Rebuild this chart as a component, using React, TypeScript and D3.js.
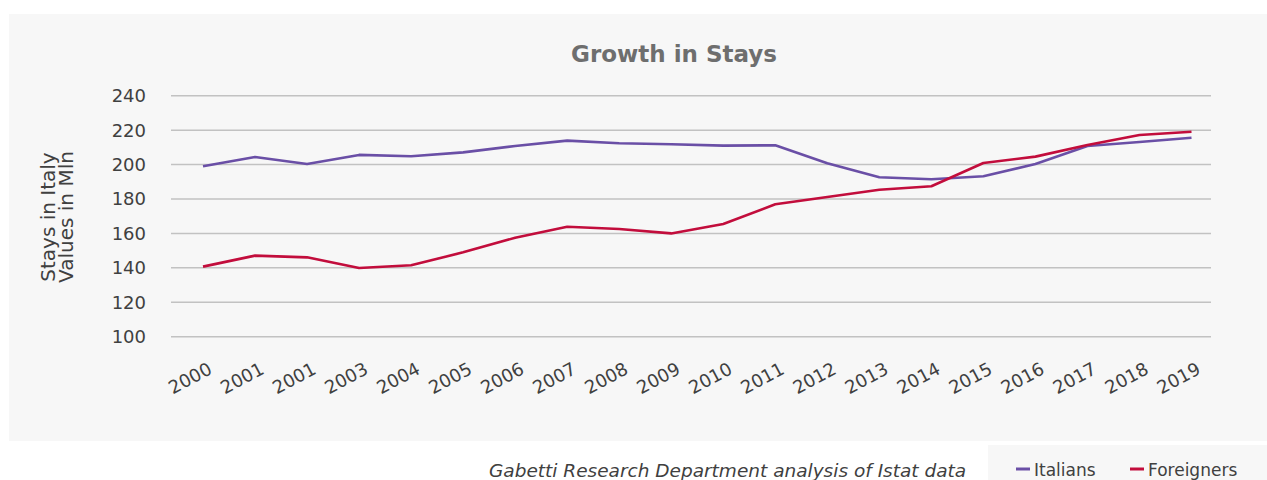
import React from "react";
import * as d3 from "d3";

const years = ["2000","2001","2001","2003","2004","2005","2006","2007","2008","2009","2010","2011","2012","2013","2014","2015","2016","2017","2018","2019"];
const italians = [199.0,204.4,200.3,205.6,204.8,207.1,210.8,213.9,212.4,211.8,211.0,211.2,200.8,192.6,191.5,193.2,200.3,210.8,213.1,215.6];
const foreigners = [140.7,147.1,146.1,139.9,141.5,149.0,157.5,163.9,162.6,160.0,165.5,176.9,181.2,185.4,187.4,200.9,204.6,211.4,217.2,219.1];
const yTicks = [100,120,140,160,180,200,220,240];
const seriesNames = ["Italians","Foreigners"];
const seriesColors = ["#6a4fa6","#c20d3c"];

const W = 1267, H = 480;
const FONT = "'DejaVu Sans', sans-serif";

export default function App() {
  const x = d3.scalePoint<number>().domain(d3.range(years.length)).range([203, 1191.5]);
  const y = d3.scaleLinear().domain([100, 240]).range([336.7, 95.7]);
  const line = d3.line<number>().x((_, i) => x(i) as number).y(d => y(d));
  const series = [italians, foreigners];

  return (
    <svg width={W} height={H} style={{ position: "fixed", left: 0, top: 0, display: "block" }} fontFamily={FONT}>
      <rect x={0} y={0} width={W} height={H} fill="#ffffff" />
      <rect x={9} y={14} width={W - 9} height={427} fill="#f7f7f7" />
      <text x={674} y={62} textAnchor="middle" fontSize={23} fontWeight="bold" fill="#6e6e6e">Growth in Stays</text>

      {yTicks.map(t => (
        <g key={t}>
          <line x1={171} x2={1211} y1={y(t)} y2={y(t)} stroke="#c2c2c2" strokeWidth={1.5} />
          <text x={146} y={y(t)} dy="0.36em" textAnchor="end" fontSize={18} fill="#404040">{t}</text>
        </g>
      ))}

      <g transform="translate(48,217) rotate(-90)">
        <text x={0} y={0} dy="0.36em" textAnchor="middle" fontSize={20} fill="#404040">Stays in Italy</text>
        <text x={0} y={18} dy="0.36em" textAnchor="middle" fontSize={20} fill="#404040">Values in Mln</text>
      </g>

      {years.map((yr, i) => (
        <text key={i} transform={`translate(${(x(i) as number) - 13},${378}) rotate(-28)`} textAnchor="middle" dy="0.36em" fontSize={18} fill="#404040">{yr}</text>
      ))}

      {series.map((s, k) => (
        <path key={k} d={line(s) || ""} fill="none" stroke={seriesColors[k]} strokeWidth={2.6} strokeLinejoin="round" />
      ))}

      <text x={489} y={477} fontSize={18.5} fontStyle="italic" fill="#404040">Gabetti Research Department analysis of Istat data</text>

      <rect x={988} y={445} width={W - 988} height={35} fill="#f7f7f7" />
      {seriesNames.map((n, k) => {
        const lx = k === 0 ? 1016 : 1130;
        return (
          <g key={n}>
            <line x1={lx} x2={lx + 14} y1={469} y2={469} stroke={seriesColors[k]} strokeWidth={3} />
            <text x={lx + 18} y={476} fontSize={17} fill="#404040">{n}</text>
          </g>
        );
      })}
    </svg>
  );
}
